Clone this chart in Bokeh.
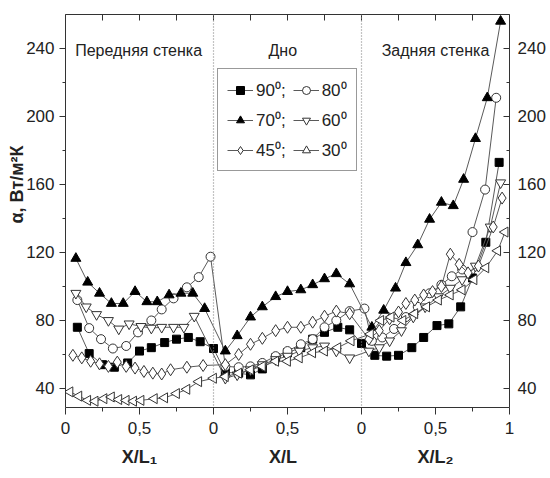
from math import pi
from bokeh.plotting import figure
from bokeh.models import (Range1d, LinearAxis, FixedTicker, Span, Label,
                          Legend, LegendItem)
from bokeh.embed import file_html
from bokeh.resources import INLINE

# ---------------- data ----------------
x_ticks = [0, 0.5, 1, 1.5, 2, 2.5, 3]
x_tick_labels = ["0", "0,5", "0", "0,5", "0", "0,5", "1"]
y_ticks = [40, 80, 120, 160, 200, 240]

x90 = [0.08, 0.16, 0.25, 0.33, 0.42, 0.50, 0.58, 0.67, 0.75, 0.83, 0.91, 1.00,
       1.08, 1.17, 1.25, 1.33, 1.42, 1.50, 1.59, 1.67, 1.75, 1.84, 1.92, 2.00,
       2.09, 2.17, 2.25, 2.34, 2.42, 2.51, 2.59, 2.67, 2.75, 2.84, 2.93]
y90 = [76, 60.5, 54, 52.5, 55, 62, 64, 67, 69, 70, 67.5, 63.5,
       49.5, 49, 48, 51.5, 58, 61, 64, 69, 73, 76, 74.5, 66.5,
       59.5, 59, 59.5, 64, 70, 77, 78, 88, 105, 126, 173]

x80 = [0.08, 0.16, 0.24, 0.32, 0.41, 0.49, 0.58, 0.65, 0.73, 0.82, 0.90, 0.98,
       1.08, 1.17, 1.25, 1.33, 1.42, 1.50, 1.59, 1.67, 1.75, 1.83, 1.92, 2.02,
       2.07, 2.14, 2.22, 2.30, 2.38, 2.46, 2.54, 2.61, 2.68, 2.75, 2.835, 2.91]
y80 = [92, 75.5, 69, 63.5, 65, 73, 80, 86.5, 93, 99.5, 105.5, 117.5,
       53, 52.5, 53, 55, 59, 62, 66, 69, 76, 80, 85.5, 87,
       68, 70, 75, 82, 88, 96, 101, 106, 110, 132, 157, 211]

x70 = [0.07, 0.15, 0.23, 0.31, 0.39, 0.47, 0.55, 0.62, 0.70, 0.78, 0.86, 0.94,
       1.08, 1.16, 1.25, 1.33, 1.42, 1.50, 1.59, 1.67, 1.75, 1.83, 1.92,
       2.07, 2.15, 2.23, 2.30, 2.38, 2.46, 2.54, 2.62, 2.69, 2.77, 2.85, 2.94]
y70 = [116.5, 102.5, 96, 90, 90, 97, 91, 91, 95, 96, 96, 87,
       62, 71, 82, 88, 94, 97, 98, 101, 104.5, 107.5, 101.5,
       76, 86, 99, 114, 124.5, 139.5, 149.5, 147.5, 163, 187, 211, 256]

x60 = [0.07, 0.14, 0.21, 0.29, 0.36, 0.43, 0.51, 0.58, 0.65, 0.73, 0.80, 0.87,
       1.08, 1.16, 1.25, 1.33, 1.42, 1.50, 1.58, 1.67, 1.75, 1.83, 1.92,
       2.05, 2.12, 2.19, 2.27, 2.35, 2.43, 2.52, 2.60, 2.68, 2.77, 2.87, 2.94]
y60 = [96, 88, 83.5, 80, 75, 78, 76.5, 75.5, 76, 76, 76, 82.5,
       46, 48, 51, 54, 57, 59, 62, 64, 65, 62, 58,
       62, 64, 68, 74, 82, 88, 94, 99, 104, 112, 135, 161]

x45 = [0.05, 0.11, 0.17, 0.23, 0.29, 0.35, 0.41, 0.47, 0.53, 0.59, 0.65, 0.71, 0.82, 0.93,
       1.08, 1.17, 1.25, 1.33, 1.42, 1.50, 1.59, 1.67, 1.75, 1.83, 1.92,
       2.05, 2.12, 2.19, 2.25, 2.30, 2.36, 2.42, 2.48, 2.54, 2.60, 2.66, 2.72, 2.79, 2.89, 2.95]
y45 = [59.5, 58, 56, 54.5, 53, 55.5, 53, 52, 50, 49, 48.5, 51, 52.5, 53.5,
       54, 60, 66, 69.5, 74, 76, 76, 79, 82.5, 85.5, 84,
       69, 74, 81, 85, 90, 92, 95, 97, 100, 119, 113, 108, 112, 135, 152]

x30 = [0.03, 0.09, 0.15, 0.20, 0.26, 0.31, 0.36, 0.41, 0.46, 0.51, 0.60, 0.67, 0.75, 0.82, 0.90,
       1.00, 1.08, 1.17, 1.25, 1.33, 1.42, 1.50, 1.58, 1.67, 1.75, 1.84, 1.93,
       2.06, 2.13, 2.20, 2.28, 2.36, 2.44, 2.52, 2.60, 2.68, 2.76, 2.84, 2.92, 2.97]
y30 = [38, 35.5, 33, 32.5, 34, 35, 33.5, 33, 32.5, 33, 34, 34.5, 37, 39.5, 44,
       46, 47, 49, 51, 53, 56, 56, 58, 61, 62, 64, 68,
       72, 80, 82, 80, 84, 88, 92, 95, 98, 104, 111, 121, 132]

series_labels = ["90⁰;", "80⁰", "70⁰;", "60⁰", "45⁰;", "30⁰"]
region_names = ["Передняя стенка", "Дно", "Задняя стенка"]
region_pos = [0.494, 1.468, 2.5]
x_captions = ["X/L₁", "X/L", "X/L₂"]
x_caption_pos = [0.5, 1.47, 2.5]
y_title = "α, Вт/м²К"
y_title_pos = 160.0

# ---------------- styling ----------------
FONT = "Liberation Sans"
LINE_C = "#5a5a5a"
EDGE_C = "#333333"
TXT_C = "#222222"

p = figure(width=550, height=478, x_range=Range1d(0, 3), y_range=Range1d(28.8, 260),
           output_backend="svg", toolbar_location=None,
           min_border_left=65, min_border_right=41, min_border_top=14, min_border_bottom=71)
p.outline_line_color = None
p.xgrid.grid_line_color = None
p.ygrid.grid_line_color = None
p.background_fill_color = "white"
p.border_fill_color = "white"

xt = FixedTicker(ticks=x_ticks, minor_ticks=[0.25, 0.75, 1.25, 1.75, 2.25, 2.75])
yt = FixedTicker(ticks=y_ticks, minor_ticks=[60, 100, 140, 180, 220])
overrides = {t: s for t, s in zip(x_ticks, x_tick_labels)}

def style_axis(ax, tin, tout):
    ax.axis_line_color = EDGE_C
    ax.axis_line_width = 1
    ax.major_tick_line_color = EDGE_C
    ax.minor_tick_line_color = EDGE_C
    ax.major_tick_in = tin
    ax.major_tick_out = tout
    ax.minor_tick_in = int(tin * 0.6) if tin else 0
    ax.minor_tick_out = int(tout * 0.6) if tout else 0
    ax.major_label_text_font = FONT
    ax.major_label_text_font_size = "17px"
    ax.major_label_text_color = TXT_C

def caption_axis(ax, size):
    ax.axis_line_color = None
    ax.major_tick_line_color = None
    ax.minor_tick_line_color = None
    ax.major_tick_in = 0
    ax.major_tick_out = 0
    ax.minor_tick_in = 0
    ax.minor_tick_out = 0
    ax.major_label_text_font = FONT
    ax.major_label_text_font_size = size
    ax.major_label_text_font_style = "bold"
    ax.major_label_text_color = TXT_C

bx = p.xaxis[0]
bx.ticker = xt
bx.major_label_overrides = overrides
style_axis(bx, 0, 7)
bx.major_label_standoff = 7

ly = p.yaxis[0]
ly.ticker = yt
style_axis(ly, 0, 6)
ly.major_label_standoff = 5

# top frame axis: ticks only, pointing inward
tx = LinearAxis(ticker=FixedTicker(ticks=[], minor_ticks=[0.25 * i for i in range(13)]))
style_axis(tx, 0, 0)
tx.minor_tick_in = 6
tx.minor_tick_out = 0
p.add_layout(tx, "above")

ry = LinearAxis(ticker=yt)
style_axis(ry, 6, 0)
ry.major_label_standoff = 8
p.add_layout(ry, "right")

# section captions under the x axis
cap = LinearAxis(ticker=FixedTicker(ticks=x_caption_pos),
                 major_label_overrides={t: s for t, s in zip(x_caption_pos, x_captions)})
caption_axis(cap, "18px")
cap.major_label_standoff = 10
p.add_layout(cap, "below")

# y title
ycap = LinearAxis(ticker=FixedTicker(ticks=[y_title_pos]),
                  major_label_overrides={y_title_pos: y_title},
                  major_label_orientation="vertical")
caption_axis(ycap, "18px")
ycap.major_label_standoff = -4
p.add_layout(ycap, "left")

for loc in (1, 2):
    p.add_layout(Span(location=loc, dimension="height", line_color="#888888",
                      line_width=1.2, line_dash="1 2"))

def series(x, y, marker, size, filled, angle=0.0):
    lr = p.line(x, y, line_color=LINE_C, line_width=1)
    sr = p.scatter(x, y, marker=marker, size=size, angle=angle,
                   fill_color=("black" if filled else "white"),
                   line_color=("black" if filled else EDGE_C), line_width=1)
    return [lr, sr]

r90 = series(x90, y90, "square", 8, True)
r80 = series(x80, y80, "circle", 9, False)
r70 = series(x70, y70, "triangle", 10, True)
r60 = series(x60, y60, "inverted_triangle", 10, False)
r45 = series(x45, y45, "diamond", 12, False)
r30 = series(x30, y30, "triangle", 10, False, angle=pi / 2)

items = [LegendItem(label=series_labels[0], renderers=r90),
         LegendItem(label=series_labels[2], renderers=r70),
         LegendItem(label=series_labels[4], renderers=r45),
         LegendItem(label=series_labels[1], renderers=r80),
         LegendItem(label=series_labels[3], renderers=r60),
         LegendItem(label=series_labels[5], renderers=r30)]
leg = Legend(items=items, location=(152, 236), ncols=2, orientation="vertical",
             label_text_font=FONT, label_text_font_size="17px",
             label_text_color=TXT_C,
             glyph_width=26, glyph_height=20, label_height=20, label_standoff=3,
             spacing=7, padding=9, margin=0,
             border_line_color=EDGE_C, border_line_width=1,
             background_fill_color="white", background_fill_alpha=1.0)
p.add_layout(leg)

# region captions
for xpos, txt in zip(region_pos, region_names):
    p.add_layout(Label(x=xpos, y=238.8, text=txt, text_align="center",
                       text_baseline="alphabetic", text_font=FONT,
                       text_font_size="16px", text_color=TXT_C))

open("out.html", "w").write(file_html(p, INLINE))
